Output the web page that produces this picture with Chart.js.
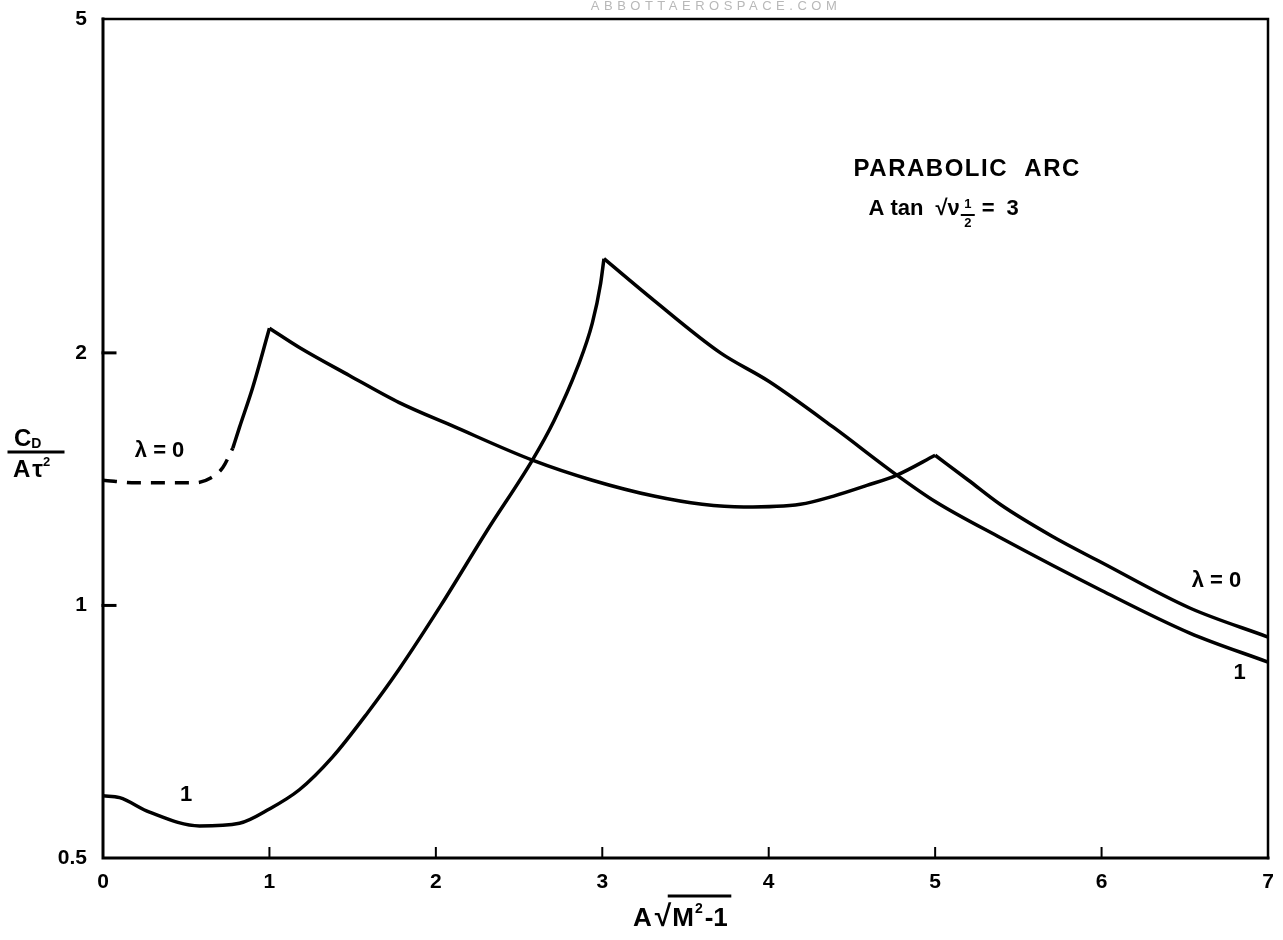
<!DOCTYPE html>
<html>
<head>
<meta charset="utf-8">
<title>Parabolic arc drag</title>
<script src="https://cdn.jsdelivr.net/npm/chart.js@4.4.1/dist/chart.umd.min.js"></script>
<style>
  html, body { margin: 0; padding: 0; background: #fff; }
</style>
</head>
<body>
<canvas id="chart" width="1283" height="940"></canvas>
<script>
// axis ticks
const xTicks = [0, 1, 2, 3, 4, 5, 6, 7];
const yTicks = [0.5, 1, 2, 5];
const yTickLabels = ["0.5", "1", "2", "5"];

// lambda = 0 : dashed start, then the rise, the long fall and the tail
const lam0DashX = [0, 0.2, 0.4, 0.55, 0.65, 0.72, 0.78];
const lam0DashY = [1.41, 1.40, 1.40, 1.40, 1.42, 1.46, 1.54];
const lam0RiseX = [0.78, 0.82, 0.9, 1.0];
const lam0RiseY = [1.54, 1.63, 1.82, 2.14];
const lam0FallX = [1.0, 1.18, 1.48, 1.78, 2.09, 2.58, 2.94, 3.31, 3.6, 3.85, 4.19, 4.39, 4.59, 4.77, 5.0];
const lam0FallY = [2.14, 2.03, 1.88, 1.745, 1.64, 1.49, 1.41, 1.35, 1.32, 1.31, 1.32, 1.35, 1.39, 1.43, 1.51];
const lam0TailX = [5.0, 5.2, 5.39, 5.7, 6.0, 6.53, 7.0];
const lam0TailY = [1.51, 1.41, 1.32, 1.21, 1.125, 0.993, 0.917];

// lambda = 1 : rise to the peak at 3, then the fall
const lam1RiseX = [0, 0.1, 0.28, 0.58, 0.82, 1.0, 1.18, 1.38, 1.59, 1.78, 2.03, 2.31, 2.58, 2.71, 2.85, 2.94, 2.99, 3.01];
const lam1RiseY = [0.593, 0.59, 0.567, 0.546, 0.55, 0.572, 0.603, 0.66, 0.745, 0.84, 1.0, 1.23, 1.49, 1.66, 1.92, 2.17, 2.42, 2.59];
const lam1FallX = [3.01, 3.31, 3.71, 4.0, 4.39, 4.77, 5.0, 5.39, 6.0, 6.53, 7.0];
const lam1FallY = [2.59, 2.31, 2.0, 1.85, 1.63, 1.43, 1.33, 1.205, 1.042, 0.927, 0.856];

const FONT = '"Liberation Sans", "DejaVu Sans", sans-serif';

function pts(xs, ys) {
  return xs.map((x, i) => ({ x, y: ys[i] }));
}

function curve(xs, ys, dashed) {
  return {
    data: pts(xs, ys),
    borderColor: "#000",
    borderWidth: 3.5,
    borderDash: dashed ? [14, 10] : [],
    pointRadius: 0,
    cubicInterpolationMode: "monotone",
    fill: false,
  };
}

// draw a run of text pieces left to right, each with its own size / shift
function drawRun(ctx, pieces, x, y) {
  let cx = x;
  pieces.forEach((p) => {
    ctx.font = `bold ${p.size}px ${FONT}`;
    ctx.fillText(p.t, cx, y + (p.dy || 0));
    cx += ctx.measureText(p.t).width + (p.gap || 0);
  });
  return cx;
}

const decorations = {
  id: "decorations",
  afterDraw(chart) {
    const { ctx, chartArea: a, scales } = chart;
    const sx = scales.x, sy = scales.y;
    ctx.save();
    ctx.strokeStyle = "#000";
    ctx.fillStyle = "#000";
    ctx.lineCap = "square";

    // frame round the plot
    ctx.lineWidth = 3;
    ctx.beginPath();
    ctx.moveTo(a.left, a.top);
    ctx.lineTo(a.left, a.bottom);
    ctx.lineTo(a.right, a.bottom);
    ctx.stroke();
    ctx.lineWidth = 2.5;
    ctx.beginPath();
    ctx.moveTo(a.left, a.top);
    ctx.lineTo(a.right, a.top);
    ctx.lineTo(a.right, a.bottom);
    ctx.stroke();

    // inward tick marks
    ctx.lineWidth = 3;
    yTicks.slice(1, 3).forEach((v) => {
      const py = sy.getPixelForValue(v);
      ctx.beginPath();
      ctx.moveTo(a.left, py);
      ctx.lineTo(a.left + 12, py);
      ctx.stroke();
    });
    ctx.lineWidth = 2;
    xTicks.slice(1, -1).forEach((v) => {
      const px = sx.getPixelForValue(v);
      ctx.beginPath();
      ctx.moveTo(px, a.bottom);
      ctx.lineTo(px, a.bottom - 10);
      ctx.stroke();
    });

    // curve labels
    ctx.textAlign = "center";
    ctx.textBaseline = "middle";
    ctx.font = `bold 22px ${FONT}`;
    ctx.fillText("\u03bb = 0", sx.getPixelForValue(0.34), sy.getPixelForValue(1.53));
    ctx.fillText("1", sx.getPixelForValue(0.5), sy.getPixelForValue(0.594));
    ctx.fillText("\u03bb = 0", sx.getPixelForValue(6.69), sy.getPixelForValue(1.07));
    ctx.fillText("1", sx.getPixelForValue(6.83), sy.getPixelForValue(0.832));

    // title block
    ctx.textAlign = "left";
    ctx.textBaseline = "alphabetic";
    ctx.font = `bold 24px ${FONT}`;
    ctx.letterSpacing = "1.5px";
    ctx.fillText("PARABOLIC  ARC", sx.getPixelForValue(4.51), sy.getPixelForValue(3.25));
    ctx.letterSpacing = "0px";
    const lx = sx.getPixelForValue(4.6);
    const ly = sy.getPixelForValue(2.92);
    let cx = drawRun(ctx, [{ t: "A", size: 22, gap: 6 }, { t: "tan", size: 22, gap: 12 }, { t: "\u221a\u03bd", size: 22 }], lx, ly);
    ctx.font = `bold 13px ${FONT}`;
    ctx.textAlign = "center";
    ctx.fillText("1", cx + 8, ly - 7);
    ctx.fillText("2", cx + 8, ly + 12);
    ctx.lineWidth = 2;
    ctx.beginPath();
    ctx.moveTo(cx + 2, ly);
    ctx.lineTo(cx + 14, ly);
    ctx.stroke();
    ctx.textAlign = "left";
    drawRun(ctx, [{ t: "=", size: 22, gap: 12 }, { t: "3", size: 22 }], cx + 22, ly);

    // x axis title  A sqrt(M^2 - 1)
    const bx = 633, by = 926;
    let tx = drawRun(ctx, [{ t: "A", size: 26, gap: 3 }, { t: "\u221a", size: 30 }], bx, by);
    const ox = tx - 2;
    tx = drawRun(ctx, [{ t: "M", size: 26, gap: 1 }, { t: "2", size: 14, dy: -13, gap: 2 }, { t: "-1", size: 26 }], tx + 1, by);
    ctx.lineWidth = 3;
    ctx.beginPath();
    ctx.moveTo(ox, by - 30);
    ctx.lineTo(tx + 2, by - 30);
    ctx.stroke();

    // y axis title  C_D / A tau^2
    drawRun(ctx, [{ t: "C", size: 24 }, { t: "D", size: 14, dy: 2 }], 14, 446);
    ctx.lineWidth = 3;
    ctx.beginPath();
    ctx.moveTo(9, 452);
    ctx.lineTo(63, 452);
    ctx.stroke();
    drawRun(ctx, [{ t: "A", size: 24, gap: 2 }, { t: "\u03c4", size: 24 }, { t: "2", size: 13, dy: -11 }], 13, 477);

    // source stamp at the top edge
    ctx.fillStyle = "#b8b8b8";
    ctx.font = `13px ${FONT}`;
    ctx.textAlign = "center";
    ctx.letterSpacing = "4.5px";
    ctx.fillText("ABBOTTAEROSPACE.COM", 716, 10);
    ctx.restore();
  },
};

new Chart(document.getElementById("chart"), {
  type: "line",
  data: {
    datasets: [
      curve(lam0DashX, lam0DashY, true),
      curve(lam0RiseX, lam0RiseY),
      curve(lam0FallX, lam0FallY),
      curve(lam0TailX, lam0TailY),
      curve(lam1RiseX, lam1RiseY),
      curve(lam1FallX, lam1FallY),
    ],
  },
  options: {
    responsive: false,
    animation: false,
    layout: { padding: { left: 0, right: 15, top: 19, bottom: 0 } },
    plugins: { legend: { display: false }, tooltip: { enabled: false } },
    scales: {
      x: {
        type: "linear",
        min: 0,
        max: 7,
        afterBuildTicks: (scale) => {
          scale.ticks = xTicks.map((v) => ({ value: v }));
        },
        afterFit: (scale) => {
          // fixed band under the plot; end labels may hang over the edges
          scale.height = 82;
          scale.paddingLeft = 0;
          scale.paddingRight = 0;
        },
        grid: { display: false, drawTicks: false },
        border: { display: false },
        ticks: {
          color: "#000",
          padding: 12,
          maxRotation: 0,
          font: { family: FONT, size: 21, weight: "bold" },
        },
      },
      y: {
        type: "logarithmic",
        min: 0.5,
        max: 5,
        afterBuildTicks: (scale) => {
          scale.ticks = yTicks.map((v) => ({ value: v }));
        },
        afterFit: (scale) => {
          scale.width = 103;
          scale.paddingTop = 0;
          scale.paddingBottom = 0;
        },
        grid: { display: false, drawTicks: false },
        border: { display: false },
        ticks: {
          color: "#000",
          padding: 16,
          font: { family: FONT, size: 21, weight: "bold" },
          callback: (v) => {
            const i = yTicks.indexOf(v);
            return i >= 0 ? yTickLabels[i] : "";
          },
        },
      },
    },
  },
  plugins: [decorations],
});
</script>
</body>
</html>
